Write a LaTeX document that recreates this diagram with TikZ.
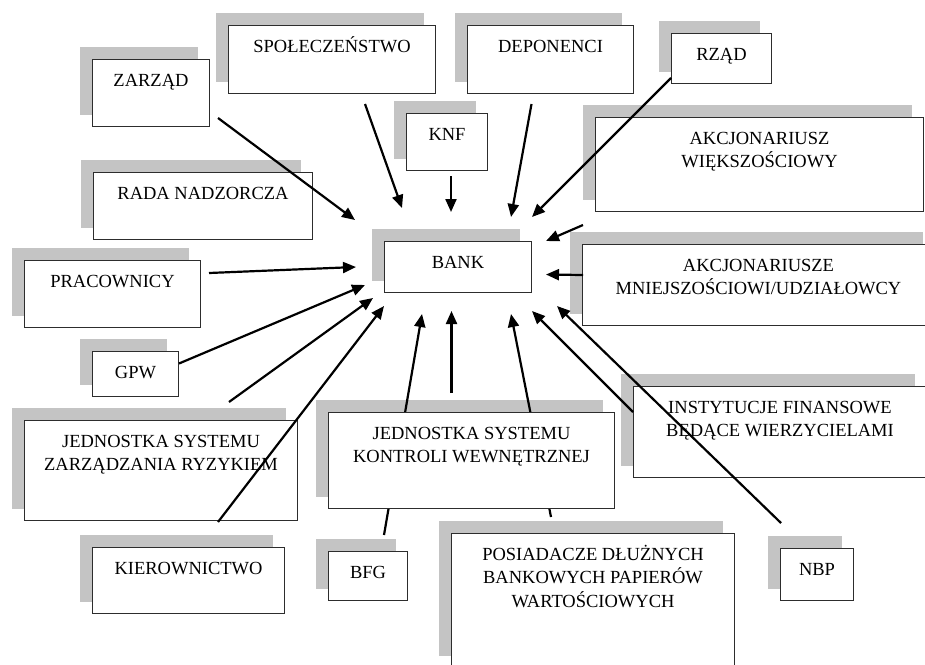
\documentclass[tikz,border=0pt]{standalone}
\usepackage{fontspec}
\setmainfont{Liberation Serif}
\usetikzlibrary{arrows.meta}
\pgfdeclarelayer{tlo}
\pgfdeclarelayer{srodek}
\pgfsetlayers{tlo,srodek,main}
\definecolor{cien}{RGB}{196,196,196}
\definecolor{ramka}{RGB}{45,45,45}

\begin{document}
\begin{tikzpicture}[x=1pt, y=1pt,
    pole/.style={draw=ramka, line width=1pt, fill=white, anchor=north west, inner sep=0pt},
    napis/.style={anchor=north, inner sep=0pt, yshift={-15pt-(#1-1)*23.5pt}, text height=12.2pt, align=center, font=\fontsize{18.5}{23.5}\selectfont},
    napis/.default=1,
    strzalka/.style={-{Triangle[length=13pt,width=11pt]}, line width=2.2pt}]
  \useasboundingbox (0,0) rectangle (925,-664);

  % Pola
  \node[pole, minimum width=117pt, minimum height=67pt, label={[napis]north:ZARZĄD}] (zarzad) at (92,-59) {};
  \node[pole, minimum width=207pt, minimum height=68pt, label={[napis]north:SPOŁECZEŃSTWO}] (spol) at (228,-25) {};
  \node[pole, minimum width=166pt, minimum height=68pt, label={[napis]north:DEPONENCI}] (depon) at (467,-25) {};
  \node[pole, minimum width=100pt, minimum height=50pt, label={[napis]north:RZĄD}] (rzad) at (671,-33) {};
  \node[pole, minimum width=81pt, minimum height=57pt, label={[napis]north:KNF}] (knf) at (406,-113) {};
  \node[pole, minimum width=328pt, minimum height=94pt, label={[napis=2]north:AKCJONARIUSZ\\WIĘKSZOŚCIOWY}] (akcjw) at (595,-117) {};
  \node[pole, minimum width=219pt, minimum height=67pt, label={[napis]north:RADA NADZORCZA}] (rada) at (93,-172) {};
  \node[pole, minimum width=147pt, minimum height=51pt, label={[napis]north:BANK}] (bank) at (384,-241) {};
  \node[pole, minimum width=352pt, minimum height=81pt, label={[napis=2]north:AKCJONARIUSZE\\MNIEJSZOŚCIOWI/UDZIAŁOWCY}] (akcjm) at (582,-244) {};
  \node[pole, minimum width=176pt, minimum height=67pt, label={[napis]north:PRACOWNICY}] (prac) at (24,-260) {};
  \node[pole, minimum width=86pt, minimum height=45pt, label={[napis]north:GPW}] (gpw) at (92,-351) {};
  \node[pole, minimum width=293pt, minimum height=91pt, label={[napis=2]north:INSTYTUCJE FINANSOWE\\BĘDĄCE WIERZYCIELAMI}] (inst) at (633,-386) {};
  \node[pole, minimum width=273pt, minimum height=100pt, label={[napis=2]north:JEDNOSTKA SYSTEMU\\ZARZĄDZANIA RYZYKIEM}] (jszr) at (24,-420) {};
  \node[pole, minimum width=286pt, minimum height=96pt, label={[napis=2]north:JEDNOSTKA SYSTEMU\\KONTROLI WEWNĘTRZNEJ}] (jskw) at (328,-412) {};
  \node[pole, minimum width=192pt, minimum height=66pt, label={[napis]north:KIEROWNICTWO}] (kier) at (92,-547) {};
  \node[pole, minimum width=79pt, minimum height=49pt, label={[napis]north:BFG}] (bfg) at (328,-551) {};
  \node[pole, minimum width=283pt, minimum height=134pt, label={[napis=3]north:POSIADACZE DŁUŻNYCH\\BANKOWYCH PAPIERÓW\\WARTOŚCIOWYCH}] (posiad) at (451,-533) {};
  \node[pole, minimum width=73pt, minimum height=52pt, label={[napis]north:NBP}] (nbp) at (780,-548) {};

  % Cienie
  \begin{pgfonlayer}{tlo}
    \foreach \n in {zarzad, spol, depon, rzad, knf, akcjw, rada, bank, akcjm, prac, gpw, inst, jszr, jskw, kier, bfg, posiad, nbp}
      \fill[cien] ([shift={(-12,12)}]\n.south west) rectangle ([shift={(-12,12)}]\n.north east);
  \end{pgfonlayer}

  % Strzalki pod polem jskw
  \begin{pgfonlayer}{srodek}
    \draw[strzalka] ([shift={(-24,16)}]bfg.north east) -- ([shift={(38,-21)}]bank.south west);
    \draw[strzalka] ([shift={(100,16)}]posiad.north west) -- ([shift={(-21,-21)}]bank.south east);
  \end{pgfonlayer}

  % Strzalki
  \draw[strzalka] ([shift={(8,9)}]zarzad.south east) -- ([shift={(-29,21)}]bank.north west);
  \draw[strzalka] ([shift={(-71,-10)}]spol.south east) -- ([shift={(18,33)}]bank.north west);
  \draw[strzalka] ([shift={(4,-5)}]knf.south) -- ([shift={(-7,29)}]bank.north);
  \draw[strzalka] ([shift={(-19,-10)}]depon.south) -- ([shift={(-21,24)}]bank.north east);
  \draw[strzalka] ([shift={(0,6)}]rzad.south west) -- ([shift={(0,24)}]bank.north east);
  \draw[strzalka] ([shift={(-12,-13)}]akcjw.south west) -- ([shift={(14,0)}]bank.north east);
  \draw[strzalka] ([shift={(1,10)}]akcjm.west) -- ([shift={(14,-7.5)}]bank.east);
  \draw[strzalka] ([shift={(8,-13)}]prac.north east) -- ([shift={(-28,0)}]bank.west);
  \draw[strzalka] ([shift={(0,10.5)}]gpw.east) -- ([shift={(-19,8)}]bank.south west);
  \draw[strzalka] ([shift={(-69,18)}]jszr.north east) -- ([shift={(-11,-5)}]bank.south west);
  \draw[strzalka] ([shift={(126,25)}]kier.north west) -- ([shift={(0,-13)}]bank.south west);
  \draw[strzalka] ([shift={(-20,19)}]jskw.north) -- ([shift={(-6.5,-18)}]bank.south);
  \draw[strzalka] ([shift={(0,-26)}]inst.north west) -- ([shift={(0,-18)}]bank.south east);
  \draw[strzalka] ([shift={(1,25)}]nbp.north west) -- ([shift={(25,-13)}]bank.south east);
\end{tikzpicture}
\end{document}
